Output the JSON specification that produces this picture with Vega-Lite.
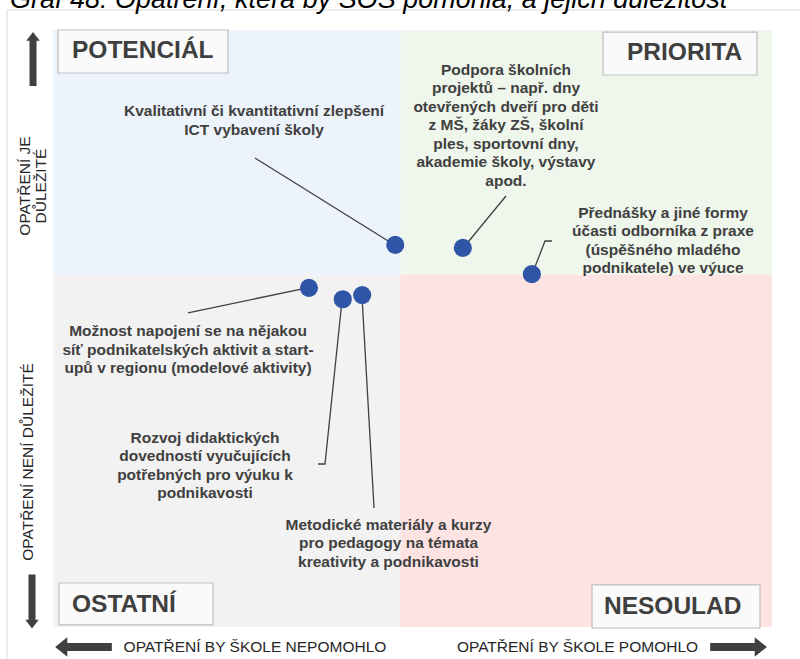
{
  "$schema": "https://vega.github.io/schema/vega-lite/v6.json",
  "width": 719,
  "height": 597,
  "autosize": "none",
  "padding": {"left": 53, "top": 30, "right": 28, "bottom": 32},
  "background": "white",
  "config": {"view": {"stroke": null}},
  "datasets": {
    "frame": [{"x": -6.4, "x2": 106, "y": 103.35, "y2": -8}],
    "quadrants": [
      {"q": "POTENCIÁL", "x": 0, "x2": 48.3, "y": 59, "y2": 100},
      {"q": "PRIORITA", "x": 48.3, "x2": 100, "y": 59, "y2": 100},
      {"q": "OSTATNÍ", "x": 0, "x2": 48.3, "y": 0, "y2": 59},
      {"q": "NESOULAD", "x": 48.3, "x2": 100, "y": 0, "y2": 59}
    ],
    "boxes": [
      {"label": "POTENCIÁL", "x": 0.7, "x2": 24.34, "y": 92.8, "y2": 100, "tx": 2.64, "ty": 96.48},
      {"label": "PRIORITA", "x": 76.5, "x2": 97.91, "y": 92.46, "y2": 99.66, "tx": 79.83, "ty": 96.15},
      {"label": "OSTATNÍ", "x": 0.83, "x2": 22.25, "y": 0.34, "y2": 7.37, "tx": 2.64, "ty": 3.69},
      {"label": "NESOULAD", "x": 74.97, "x2": 98.33, "y": -0.17, "y2": 7.04, "tx": 76.63, "ty": 3.35}
    ],
    "arrows": [
      {"dir": "up", "x": -2.78, "y": 95.14},
      {"dir": "down", "x": -2.92, "y": 4.27},
      {"dir": "left", "x": 4.24, "y": -3.35},
      {"dir": "right", "x": 95.34, "y": -3.35}
    ],
    "vlabels": [
      {"text": "OPATŘENÍ  JE\nDŮLEŽITÉ", "x": -3.89, "y": 73.87},
      {"text": "OPATŘENÍ  NENÍ  DŮLEŽITÉ", "x": -3.48, "y": 27.64}
    ],
    "hlabels": [
      {"text": "OPATŘENÍ  BY  ŠKOLE  NEPOMOHLO", "x": 28.09, "y": -3.35},
      {"text": "OPATŘENÍ  BY  ŠKOLE  POMOHLO", "x": 72.95, "y": -3.35}
    ],
    "title": [{"text": "Graf 48: Opatření, která by SOŠ pomohla, a jejich důležitost", "x": -5.98, "y": 103.7}],
    "connectors": [
      {"id": 1, "seq": 1, "x": 28.09, "y": 78.56},
      {"id": 1, "seq": 2, "x": 47.29, "y": 64.15},
      {"id": 2, "seq": 1, "x": 63.0, "y": 72.2},
      {"id": 2, "seq": 2, "x": 57.16, "y": 63.65},
      {"id": 3, "seq": 1, "x": 69.4, "y": 64.66},
      {"id": 3, "seq": 2, "x": 68.43, "y": 64.66},
      {"id": 3, "seq": 3, "x": 66.76, "y": 59.46},
      {"id": 4, "seq": 1, "x": 18.78, "y": 52.6},
      {"id": 4, "seq": 2, "x": 35.19, "y": 56.78},
      {"id": 5, "seq": 1, "x": 36.86, "y": 27.3},
      {"id": 5, "seq": 2, "x": 37.83, "y": 27.3},
      {"id": 5, "seq": 3, "x": 40.19, "y": 54.61},
      {"id": 6, "seq": 1, "x": 44.65, "y": 19.93},
      {"id": 6, "seq": 2, "x": 42.98, "y": 55.28}
    ],
    "points": [
      {"name": "Kvalitativní či kvantitativní zlepšení ICT vybavení školy", "x": 47.6, "y": 64.0},
      {"name": "Podpora školních projektů", "x": 57.0, "y": 63.5},
      {"name": "Přednášky a jiné formy účasti odborníka z praxe", "x": 66.6, "y": 59.1},
      {"name": "Možnost napojení se na nějakou síť podnikatelských aktivit", "x": 35.6, "y": 56.8},
      {"name": "Rozvoj didaktických dovedností vyučujících", "x": 40.3, "y": 54.9},
      {"name": "Metodické materiály a kurzy", "x": 43.0, "y": 55.6}
    ],
    "annotations": [
      {"text": "Kvalitativní  či kvantitativní zlepšení\nICT vybavení školy", "x": 27.96, "y": 86.43},
      {"text": "Podpora školních\nprojektů – např. dny\notevřených dveří pro děti\nz MŠ, žáky ZŠ, školní\nples, sportovní dny,\nakademie školy, výstavy\napod.", "x": 63.0, "y": 93.3},
      {"text": "Přednášky a jiné formy\núčasti odborníka z praxe\n(úspěšného mladého\npodnikatele) ve výuce", "x": 84.84, "y": 69.35},
      {"text": "Možnost napojení se na nějakou\nsíť podnikatelských aktivit a start-\nupů v regionu (modelové aktivity)", "x": 18.78, "y": 49.58},
      {"text": "Rozvoj didaktických\ndovedností vyučujících\npotřebných pro výuku k\npodnikavosti", "x": 21.14, "y": 31.66},
      {"text": "Metodické materiály a kurzy\npro pedagogy na témata\nkreativity a podnikavosti", "x": 46.66, "y": 17.09}
    ]
  },
  "layer": [
    {
      "data": {"name": "frame"},
      "mark": {"type": "rect", "fill": null, "stroke": "#D9D9D9", "strokeWidth": 1},
      "encoding": {
        "x": {"field": "x", "type": "quantitative", "scale": {"domain": [0, 100]}, "axis": null},
        "x2": {"field": "x2"},
        "y": {"field": "y", "type": "quantitative", "scale": {"domain": [0, 100]}, "axis": null},
        "y2": {"field": "y2"}
      }
    },
    {
      "data": {"name": "quadrants"},
      "mark": {"type": "rect"},
      "encoding": {
        "x": {"field": "x", "type": "quantitative"},
        "x2": {"field": "x2"},
        "y": {"field": "y", "type": "quantitative"},
        "y2": {"field": "y2"},
        "color": {"field": "q", "type": "nominal", "legend": null,
          "scale": {"domain": ["POTENCIÁL", "PRIORITA", "OSTATNÍ", "NESOULAD"], "range": ["#EDF3FB", "#EFF6EC", "#F2F2F2", "#FEE3E3"]}}
      }
    },
    {
      "data": {"name": "boxes"},
      "mark": {"type": "rect", "fill": "#FAFAFA", "stroke": "#BFBFBF", "strokeWidth": 1.2},
      "encoding": {
        "x": {"field": "x", "type": "quantitative"},
        "x2": {"field": "x2"},
        "y": {"field": "y", "type": "quantitative"},
        "y2": {"field": "y2"}
      }
    },
    {
      "data": {"name": "boxes"},
      "mark": {"type": "text", "align": "left", "baseline": "middle", "font": "Liberation Sans", "fontWeight": "bold", "fontSize": 24.5, "fill": "#3F3F3F"},
      "encoding": {
        "x": {"field": "tx", "type": "quantitative"},
        "y": {"field": "ty", "type": "quantitative"},
        "text": {"field": "label"}
      }
    },
    {
      "data": {"name": "arrows"},
      "mark": {"type": "point", "filled": true, "size": 2916, "opacity": 1, "strokeWidth": 0, "fill": "#404040"},
      "encoding": {
        "x": {"field": "x", "type": "quantitative"},
        "y": {"field": "y", "type": "quantitative"},
        "shape": {"field": "dir", "type": "nominal", "legend": null,
          "scale": {"domain": ["up", "down", "left", "right"],
            "range": [
              "M0,-1L0.25,-0.68L0.13,-0.68L0.13,1L-0.13,1L-0.13,-0.68L-0.25,-0.68Z",
              "M0,1L0.25,0.68L0.13,0.68L0.13,-1L-0.13,-1L-0.13,0.68L-0.25,0.68Z",
              "M-1.05,0L-0.6,-0.36L-0.6,-0.15L1.05,-0.15L1.05,0.15L-0.6,0.15L-0.6,0.36Z",
              "M1.05,0L0.6,-0.36L0.6,-0.15L-1.05,-0.15L-1.05,0.15L0.6,0.15L0.6,0.36Z"
            ]}}
      }
    },
    {
      "data": {"name": "vlabels"},
      "mark": {"type": "text", "angle": 270, "align": "center", "baseline": "middle", "lineBreak": "\n", "lineHeight": 16, "font": "Liberation Sans", "fontSize": 15.5, "fill": "#262626"},
      "encoding": {
        "x": {"field": "x", "type": "quantitative"},
        "y": {"field": "y", "type": "quantitative"},
        "text": {"field": "text"}
      }
    },
    {
      "data": {"name": "hlabels"},
      "mark": {"type": "text", "align": "center", "baseline": "middle", "font": "Liberation Sans", "fontSize": 15.5, "fill": "#262626"},
      "encoding": {
        "x": {"field": "x", "type": "quantitative"},
        "y": {"field": "y", "type": "quantitative"},
        "text": {"field": "text"}
      }
    },
    {
      "data": {"name": "title"},
      "mark": {"type": "text", "align": "left", "baseline": "alphabetic", "font": "Liberation Sans", "fontStyle": "italic", "fontSize": 27, "fill": "#000000"},
      "encoding": {
        "x": {"field": "x", "type": "quantitative"},
        "y": {"field": "y", "type": "quantitative"},
        "text": {"field": "text"}
      }
    },
    {
      "data": {"name": "connectors"},
      "mark": {"type": "line", "stroke": "#404040", "strokeWidth": 1.3},
      "encoding": {
        "x": {"field": "x", "type": "quantitative"},
        "y": {"field": "y", "type": "quantitative"},
        "detail": {"field": "id", "type": "nominal"},
        "order": {"field": "seq", "type": "quantitative"}
      }
    },
    {
      "data": {"name": "points"},
      "mark": {"type": "circle", "size": 330, "opacity": 1, "fill": "#2F56A6"},
      "encoding": {
        "x": {"field": "x", "type": "quantitative"},
        "y": {"field": "y", "type": "quantitative"},
        "tooltip": {"field": "name"}
      }
    },
    {
      "data": {"name": "annotations"},
      "mark": {"type": "text", "align": "center", "baseline": "middle", "lineBreak": "\n", "lineHeight": 18.5, "font": "Liberation Sans", "fontWeight": "bold", "fontSize": 15.5, "fill": "#404040"},
      "encoding": {
        "x": {"field": "x", "type": "quantitative"},
        "y": {"field": "y", "type": "quantitative"},
        "text": {"field": "text"}
      }
    }
  ]
}
